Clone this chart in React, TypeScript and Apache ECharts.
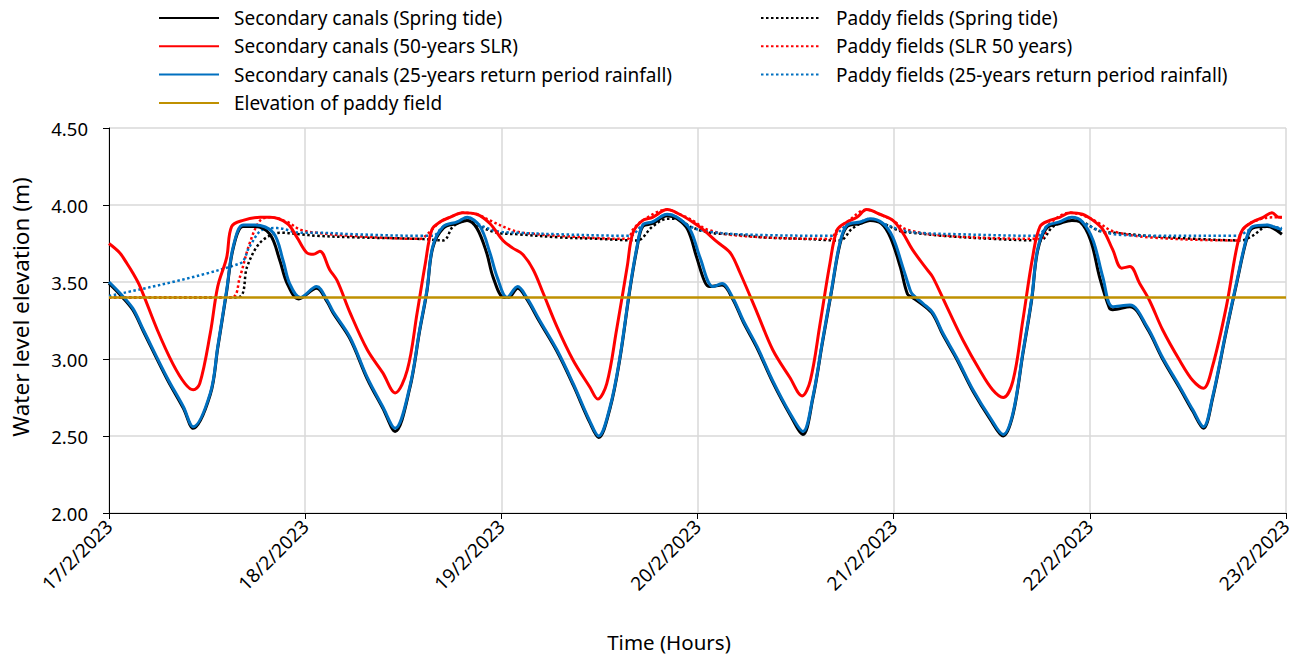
import React, { useEffect, useRef } from "react";
import * as echarts from "echarts";

// x values are hours since 17/2/2023 00:00
const dateLabels = ["17/2/2023", "18/2/2023", "19/2/2023", "20/2/2023", "21/2/2023", "22/2/2023", "23/2/2023"];
const yTitle = "Water level elevation (m)";
const xTitle = "Time (Hours)";

const canalSpring: number[][] = [
  [0,3.49],[1.3,3.42],[2.9,3.32],[4.2,3.18],[7.1,2.87],[9.1,2.68],[10.3,2.55],[12.4,2.77],[13.3,3.07],[14.4,3.44],[15.2,3.72],[16.4,3.86],[17.9,3.86],[19.7,3.81],[20.9,3.64],[21.8,3.49],[23.2,3.39],[25.4,3.46],[26.7,3.37],[27.4,3.30],[29.5,3.13],[31.6,2.87],[33.5,2.68],[35.0,2.53],[36.8,2.81],[38.0,3.18],[38.9,3.44],[39.6,3.72],[40.9,3.85],[42.6,3.88],[43.8,3.90],[45.0,3.85],[46.2,3.69],[47.0,3.53],[48.3,3.40],[48.9,3.40],[50.0,3.46],[51.1,3.39],[52.7,3.24],[54.8,3.05],[56.8,2.83],[58.8,2.59],[59.9,2.49],[61.3,2.68],[62.5,3.00],[63.7,3.44],[64.6,3.72],[65.3,3.86],[66.5,3.88],[68.3,3.93],[69.5,3.91],[70.8,3.84],[71.9,3.66],[72.9,3.50],[73.5,3.47],[75.0,3.48],[76.3,3.39],[77.6,3.24],[79.3,3.07],[81.2,2.85],[83.3,2.64],[84.9,2.51],[86.1,2.74],[87.3,3.11],[88.4,3.44],[89.4,3.74],[90.3,3.86],[91.9,3.88],[93.1,3.90],[94.5,3.88],[95.6,3.79],[96.8,3.60],[97.7,3.42],[98.3,3.40],[99.6,3.35],[100.8,3.29],[102.0,3.16],[103.7,3.00],[105.7,2.79],[107.8,2.61],[109.4,2.50],[110.6,2.64],[111.8,3.03],[112.9,3.39],[113.6,3.70],[114.7,3.85],[116.3,3.88],[117.8,3.90],[118.8,3.89],[120.1,3.77],[121.2,3.53],[122.4,3.33],[122.8,3.32],[124.9,3.34],[127.0,3.20],[128.9,3.00],[131.0,2.81],[132.6,2.66],[133.9,2.55],[135.0,2.74],[136.7,3.18],[138.0,3.50],[139.2,3.78],[139.9,3.85],[141.7,3.86],[142.4,3.85],[143.5,3.81]
];

const canalSLR: number[][] = [
  [0,3.75],[1.3,3.69],[2.2,3.62],[2.9,3.56],[3.8,3.47],[5.9,3.19],[7.8,2.97],[9.3,2.84],[10.3,2.80],[11.1,2.84],[12.4,3.17],[13.3,3.47],[14.4,3.66],[15.0,3.86],[16.4,3.90],[18.5,3.92],[19.7,3.92],[21.8,3.88],[23.0,3.79],[24.2,3.69],[25.0,3.68],[25.8,3.70],[27.0,3.58],[27.9,3.51],[29.5,3.30],[31.6,3.06],[33.5,2.91],[35.0,2.78],[36.5,2.93],[37.7,3.30],[38.7,3.62],[39.5,3.84],[40.5,3.89],[41.7,3.92],[43.3,3.95],[45.0,3.94],[46.6,3.88],[48.2,3.77],[49.4,3.72],[50.6,3.68],[51.9,3.58],[53.1,3.43],[54.8,3.21],[56.8,2.99],[58.8,2.82],[59.8,2.74],[60.9,2.84],[62.1,3.19],[63.4,3.60],[64.1,3.82],[65.3,3.90],[66.5,3.92],[68.3,3.97],[69.8,3.94],[71.4,3.89],[72.7,3.84],[74.4,3.76],[76.0,3.69],[77.2,3.56],[79.3,3.30],[81.2,3.06],[83.3,2.88],[84.8,2.76],[85.8,2.86],[87.0,3.23],[88.2,3.62],[89.1,3.84],[90.3,3.89],[91.5,3.92],[92.7,3.97],[94.3,3.94],[95.9,3.90],[97.1,3.82],[98.3,3.71],[100.1,3.58],[100.8,3.53],[102.5,3.34],[104.5,3.12],[106.5,2.93],[108.1,2.80],[109.4,2.75],[110.6,2.86],[111.8,3.25],[113.0,3.66],[113.9,3.86],[115.1,3.90],[116.3,3.92],[117.6,3.95],[119.1,3.94],[120.4,3.90],[121.6,3.84],[122.8,3.71],[123.9,3.59],[124.9,3.60],[126.1,3.49],[127.3,3.38],[128.9,3.19],[131.0,2.99],[132.6,2.86],[133.9,2.81],[135.0,2.95],[136.7,3.34],[138.0,3.73],[138.7,3.84],[139.9,3.89],[141.2,3.92],[142.3,3.95],[143.1,3.92],[143.5,3.92]
];

const canalRain: number[][] = [
  [0,3.50],[1.3,3.43],[2.9,3.33],[4.2,3.19],[7.1,2.88],[9.1,2.69],[10.3,2.56],[12.4,2.78],[13.3,3.08],[14.4,3.45],[15.2,3.73],[16.4,3.87],[17.9,3.87],[20.1,3.82],[21.3,3.64],[22.1,3.49],[23.4,3.40],[25.4,3.47],[26.7,3.38],[27.4,3.31],[29.5,3.14],[31.6,2.88],[33.5,2.69],[35.0,2.55],[36.8,2.82],[38.0,3.19],[38.9,3.45],[39.6,3.73],[40.9,3.86],[42.6,3.89],[43.8,3.92],[45.4,3.86],[46.6,3.69],[47.5,3.53],[48.7,3.40],[50.0,3.47],[51.1,3.40],[52.7,3.25],[54.8,3.06],[56.8,2.84],[58.8,2.60],[59.9,2.50],[61.3,2.69],[62.5,3.01],[63.7,3.45],[64.6,3.73],[65.3,3.87],[66.5,3.89],[68.3,3.94],[69.5,3.92],[71.1,3.84],[72.3,3.66],[73.9,3.47],[75.0,3.49],[76.3,3.40],[77.6,3.25],[79.3,3.08],[81.2,2.86],[83.3,2.65],[84.9,2.53],[86.1,2.75],[87.3,3.12],[88.4,3.45],[89.4,3.75],[90.3,3.87],[91.9,3.89],[93.1,3.91],[94.7,3.88],[95.9,3.79],[97.1,3.60],[98.0,3.45],[98.3,3.42],[99.6,3.36],[100.8,3.30],[102.0,3.17],[103.7,3.01],[105.7,2.80],[107.8,2.62],[109.4,2.51],[110.6,2.65],[111.8,3.04],[112.9,3.40],[113.6,3.71],[114.7,3.86],[116.3,3.89],[117.8,3.92],[119.1,3.89],[120.4,3.77],[121.6,3.53],[122.8,3.34],[124.9,3.35],[127.0,3.21],[128.9,3.01],[131.0,2.82],[132.6,2.67],[133.9,2.56],[135.0,2.75],[136.7,3.19],[138.0,3.51],[139.2,3.79],[139.9,3.86],[141.7,3.87],[142.4,3.86],[143.5,3.84]
];

const paddySpring: number[][] = [
  [0,3.40],[15.7,3.40],[16.9,3.60],[18.1,3.73],[19.3,3.79],[20.9,3.82],[23.4,3.81],[25.4,3.80],[30,3.79],[38.0,3.78],[40.9,3.77],[42.1,3.86],[43.8,3.90],[45.4,3.86],[47.5,3.82],[50,3.81],[55,3.79],[60,3.78],[64.6,3.77],[66.5,3.86],[68.3,3.91],[69.5,3.91],[71.1,3.86],[73.5,3.82],[76,3.81],[80,3.79],[85,3.78],[89.4,3.77],[91.0,3.85],[93.1,3.90],[94.7,3.88],[96.8,3.83],[98.3,3.82],[102,3.80],[108,3.78],[113.9,3.77],[115.5,3.86],[117.6,3.90],[119.1,3.89],[121.2,3.83],[123,3.82],[127,3.80],[133,3.78],[138.5,3.77],[139.9,3.80],[141.7,3.86],[142.4,3.86],[143.5,3.82]
];

const paddySLR: number[][] = [
  [0,3.40],[15.0,3.40],[16.0,3.53],[17.2,3.75],[18.5,3.90],[19.7,3.92],[21.8,3.89],[23.4,3.84],[25.4,3.82],[29.5,3.80],[38.0,3.78],[39.5,3.84],[40.5,3.89],[41.7,3.92],[43.3,3.95],[45.0,3.94],[46.6,3.90],[49.1,3.84],[50.6,3.82],[55,3.80],[63.4,3.78],[64.1,3.84],[65.3,3.90],[68.3,3.97],[69.8,3.94],[71.4,3.90],[73.2,3.84],[77.2,3.80],[88.2,3.78],[89.1,3.84],[90.3,3.89],[92.7,3.97],[94.7,3.93],[95.9,3.90],[97.6,3.84],[102.5,3.80],[113.9,3.78],[115.1,3.88],[117.6,3.95],[119.3,3.93],[121.2,3.88],[122.8,3.83],[127.3,3.79],[138.0,3.77],[138.7,3.84],[139.9,3.89],[142.3,3.92],[143.5,3.92]
];

const paddyRain: number[][] = [
  [0,3.41],[16.0,3.62],[17.2,3.73],[18.8,3.84],[20.6,3.85],[23.4,3.82],[25.4,3.82],[30,3.81],[38.0,3.80],[39.6,3.80],[40.9,3.86],[42.6,3.89],[43.8,3.92],[45.4,3.87],[47.5,3.83],[50,3.82],[55,3.81],[63.7,3.80],[65.3,3.87],[66.5,3.89],[68.3,3.94],[69.5,3.92],[71.1,3.86],[73,3.83],[77,3.81],[88.4,3.80],[90.3,3.87],[91.9,3.89],[93.1,3.91],[94.7,3.88],[96.8,3.84],[99,3.82],[104,3.81],[113.6,3.80],[114.7,3.86],[116.3,3.89],[117.8,3.92],[119.1,3.89],[120.9,3.84],[123,3.81],[128,3.80],[138,3.80],[139.9,3.85],[141.7,3.87],[142.4,3.86],[143.5,3.85]
];

const paddyElevation: number[][] = [[0, 3.4], [144, 3.4]];

const FONT = "Noto Sans";

export default function App() {
  const ref = useRef<HTMLDivElement>(null);
  useEffect(() => {
    document.body.style.margin = "0";
    const chart = echarts.init(ref.current!, undefined, { renderer: "svg" });
    const dot = [2.5, 2.5];
    const solid = (name: string, data: number[][], color: string, z: number) => ({
      name, type: "line", data, symbol: "none", smooth: 0.35, z,
      lineStyle: { color, width: 3 }, itemStyle: { color },
    });
    const dotted = (name: string, data: number[][], color: string, z: number) => ({
      name, type: "line", data, symbol: "none", smooth: 0.35, z,
      lineStyle: { color, width: 2.5, type: dot }, itemStyle: { color },
    });
    const legendCommon = {
      orient: "vertical",
      top: 8,
      padding: 0,
      itemWidth: 60,
      itemHeight: 20,
      itemGap: 8.3,
      itemStyle: { opacity: 0 },
      textStyle: { fontFamily: FONT, fontSize: 19, color: "#000", padding: [0, 0, 0, 10], lineHeight: 20 },
    };
    chart.setOption({
      animation: false,
      textStyle: { fontFamily: FONT },
      graphic: [
        {
          type: "text",
          x: 20,
          y: 307,
          rotation: Math.PI / 2,
          style: {
            text: yTitle,
            fontFamily: FONT,
            fontSize: 22.5,
            fill: "#000",
            align: "center",
            verticalAlign: "middle",
          },
        },
        {
          type: "text",
          x: 669,
          y: 642,
          style: {
            text: xTitle,
            fontFamily: FONT,
            fontSize: 20.5,
            fill: "#000",
            align: "center",
            verticalAlign: "middle",
          },
        },
      ],
      legend: [
        {
          ...legendCommon,
          left: 158,
          data: [
            "Secondary canals (Spring tide)",
            "Secondary canals (50-years SLR)",
            "Secondary canals (25-years return period rainfall)",
            "Elevation of paddy field",
          ],
        },
        {
          ...legendCommon,
          left: 760,
          data: [
            "Paddy fields (Spring tide)",
            "Paddy fields (SLR 50 years)",
            "Paddy fields (25-years return period rainfall)",
          ],
        },
      ],
      grid: { left: 109, top: 128, right: 12, bottom: 144, outerBoundsMode: "none", containLabel: false },
      xAxis: {
        type: "value",
        min: 0,
        max: 144,
        interval: 24,
        axisLine: { show: true, lineStyle: { color: "#000", width: 1 } },
        axisTick: { show: true, length: 6, lineStyle: { color: "#000" } },
        splitLine: { show: true, lineStyle: { color: "#d9d9d9", width: 1.5 } },
        axisLabel: {
          rotate: 45,
          margin: 10,
          fontFamily: FONT,
          fontSize: 19,
          color: "#000",
          formatter: (v: number) => dateLabels[Math.round(v / 24)] ?? "",
        },
      },
      yAxis: {
        type: "value",
        min: 2,
        max: 4.5,
        interval: 0.5,
        axisLine: { show: true, lineStyle: { color: "#000", width: 1 } },
        axisTick: { show: true, length: 6, lineStyle: { color: "#000" } },
        splitLine: { show: true, lineStyle: { color: "#d9d9d9", width: 1.5 } },
        axisLabel: {
          margin: 21,
          fontFamily: FONT,
          fontSize: 18.5,
          color: "#000",
          formatter: (v: number) => v.toFixed(2),
        },
      },
      series: [
        dotted("Paddy fields (Spring tide)", paddySpring, "#000000", 2),
        dotted("Paddy fields (SLR 50 years)", paddySLR, "#FF0000", 3),
        dotted("Paddy fields (25-years return period rainfall)", paddyRain, "#0070C0", 4),
        solid("Secondary canals (Spring tide)", canalSpring, "#000000", 5),
        solid("Secondary canals (50-years SLR)", canalSLR, "#FF0000", 6),
        solid("Secondary canals (25-years return period rainfall)", canalRain, "#0070C0", 7),
        {
          name: "Elevation of paddy field", type: "line", data: paddyElevation, symbol: "none", z: 8,
          lineStyle: { color: "#BF9000", width: 2.5 }, itemStyle: { color: "#BF9000" },
        },
      ],
    });
    return () => chart.dispose();
  }, []);
  return <div ref={ref} style={{ position: "absolute", left: 0, top: 0, width: 1298, height: 657 }} />;
}
